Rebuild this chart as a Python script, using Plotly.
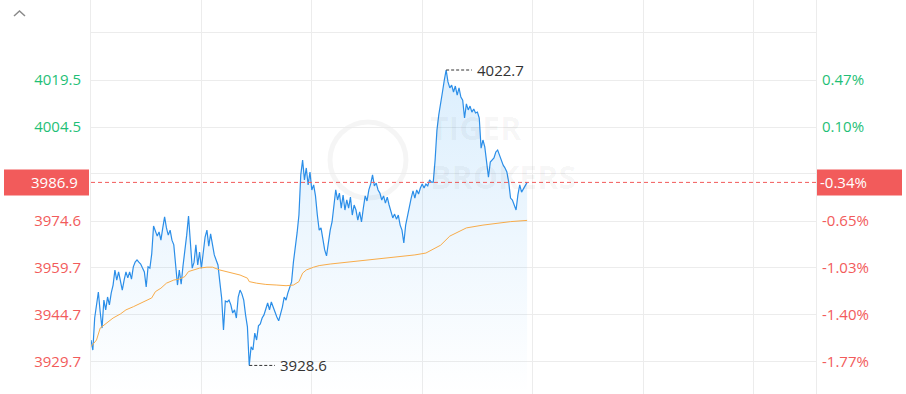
import plotly.graph_objects as go

# ---------------- data ----------------
price = [
    3936.7, 3933.5, 3943.7, 3947.5, 3952.0, 3945.6, 3940.5, 3949.4, 3946.3, 3950.4,
    3947.9, 3951.7, 3954.2, 3959.0, 3955.8, 3958.4, 3955.2, 3952.6, 3955.8, 3958.4,
    3956.5, 3958.4, 3956.1, 3960.0, 3961.5, 3962.2, 3961.5, 3960.9, 3959.6, 3958.4,
    3953.6, 3960.0, 3959.6, 3964.1, 3973.0, 3971.1, 3969.8, 3971.1, 3968.5, 3972.4,
    3975.9, 3972.4, 3970.1, 3971.7, 3968.5, 3967.0, 3961.5, 3954.2, 3959.0, 3954.5,
    3960.3, 3964.7, 3970.1, 3976.2, 3968.5, 3959.6, 3961.5, 3967.0, 3960.6, 3964.7,
    3959.6, 3965.4, 3969.5, 3971.7, 3966.6, 3970.5, 3966.3, 3963.8, 3962.2, 3960.6,
    3955.2, 3950.1, 3939.9, 3949.1, 3948.8, 3949.4, 3947.9, 3945.3, 3946.3, 3943.7,
    3950.4, 3952.6, 3951.4, 3949.4, 3944.7, 3940.9, 3928.6, 3934.5, 3933.5, 3938.9,
    3936.7, 3941.2, 3941.8, 3943.7, 3944.7, 3946.3, 3948.5, 3946.3, 3948.8, 3947.2,
    3945.3, 3944.0, 3942.8, 3944.7, 3947.2, 3950.4, 3949.4, 3951.7, 3953.6, 3955.2,
    3961.5, 3965.4, 3970.8, 3976.5, 3989.3, 3994.0, 3987.7, 3991.5, 3986.1, 3990.2,
    3984.5, 3986.1, 3982.6, 3976.5, 3971.7, 3972.4, 3968.5, 3965.4, 3963.5, 3968.5,
    3971.7, 3974.3, 3979.7, 3984.5, 3981.3, 3983.5, 3978.7, 3982.9, 3978.1, 3981.3,
    3978.7, 3982.2, 3976.5, 3979.7, 3978.1, 3974.9, 3977.5, 3974.3, 3978.7, 3982.6,
    3981.0, 3984.5, 3986.4, 3989.3, 3985.8, 3986.7, 3984.5, 3983.5, 3981.3, 3982.6,
    3980.3, 3982.2, 3979.7, 3977.8, 3975.6, 3976.8, 3975.2, 3976.5, 3973.3, 3971.7,
    3967.6, 3973.3, 3976.5, 3979.7, 3981.9, 3984.2, 3981.9, 3984.5, 3983.2, 3985.1,
    3986.4, 3985.1, 3986.4, 3985.8, 3987.7, 3987.0, 3987.0, 3994.0, 4003.6, 4008.4,
    4011.5, 4015.7, 4019.5, 4022.7, 4018.9, 4017.0, 4017.9, 4015.7, 4017.6, 4014.7,
    4017.0, 4014.1, 4013.1, 4007.4, 4011.9, 4010.0, 4011.2, 4009.3, 4010.3, 4009.0,
    4009.3, 4007.4, 3997.8, 4000.4, 3998.2, 3994.0, 3988.6, 3993.4, 3994.0, 3994.7,
    3996.6, 3997.2, 3995.6, 3994.0, 3992.4, 3991.5, 3990.2, 3987.0, 3981.9, 3981.3,
    3979.7, 3978.1, 3982.9, 3986.1, 3983.8, 3984.8, 3985.8, 3986.9,
]
minutes = list(range(len(price)))

avg_minutes = [0, 3, 5, 7, 9, 12, 16, 19, 23, 27, 30, 33, 35, 38, 41, 45, 48, 51, 53, 56,
               59, 63, 66, 70, 74, 77, 81, 85, 86, 90, 95, 101, 106, 110, 113, 115, 117,
               121, 124, 130, 138, 146, 157, 168, 176, 182, 185, 190, 195, 204, 213, 228, 237]
avg_values = [3934.6, 3936.7, 3940.5, 3941.5, 3942.4, 3943.7, 3945.0, 3946.3, 3947.3, 3948.4,
              3949.1, 3950.1, 3952.1, 3953.2, 3954.8, 3955.8, 3956.1, 3956.9, 3958.5, 3959.0,
              3959.6, 3959.9, 3959.9, 3959.0, 3958.5, 3958.1, 3957.4, 3956.4, 3955.3, 3954.8,
              3954.4, 3954.2, 3954.0, 3954.2, 3955.3, 3958.0, 3959.0, 3959.9, 3960.4, 3960.9,
              3961.4, 3961.9, 3962.5, 3963.2, 3963.8, 3964.4, 3965.4, 3966.9, 3969.8, 3972.4,
              3973.3, 3974.4, 3974.8]

left_tick_vals = [3929.7, 3944.7, 3959.7, 3974.6, 3989.6, 4004.5, 4019.5, 4034.5]
left_tick_text = ["3929.7", "3944.7", "3959.7", "3974.6", "", "4004.5", "4019.5", ""]
right_tick_text = ["-1.77%", "-1.40%", "-1.03%", "-0.65%", "", "0.10%", "0.47%", ""]
prev_close = 4000.7
last_label = "3986.9"
last_pct_label = "-0.34%"

# ---------------- styles ----------------
W, H = 906, 394
ML, MR = 91, 90
PW = W - ML - MR
Y_MIN, Y_MAX = 3919.5, 4045.0
X_MAX = 394
RED = "#f25b5b"
GREEN = "#1fbf77"
BLUE = "#2b8ee8"
ORANGE = "#f8ac4a"
GRID = "#ececec"
FONT = "Open Sans"


def colored(text, val):
    c = GREEN if val > prev_close else RED
    return f'<span style="color:{c}">{text}</span>' if text else ""


def px_to_paper_x(px):
    return (px - ML) / PW


def val_to_paper_y(v):
    return (v - Y_MIN) / (Y_MAX - Y_MIN)


fig = go.Figure()

# baseline for gradient fill
fig.add_trace(go.Scatter(x=minutes, y=[Y_MIN] * len(minutes), mode="lines",
                         line=dict(width=0, color="rgba(0,0,0,0)"),
                         hoverinfo="skip", showlegend=False))
fig.add_trace(go.Scatter(
    x=minutes, y=price, mode="lines", line=dict(color=BLUE, width=1.2),
    fill="tonexty",
    fillgradient=dict(type="vertical",
                      colorscale=[[0, "rgba(33,150,243,0.0)"], [1, "rgba(33,150,243,0.16)"]],
                      start=Y_MIN, stop=max(price)),
    showlegend=False, hoverinfo="skip"))
fig.add_trace(go.Scatter(x=avg_minutes, y=avg_values, mode="lines",
                         line=dict(color=ORANGE, width=1), showlegend=False, hoverinfo="skip"))
# dummy trace on right axis
fig.add_trace(go.Scatter(x=[0], y=[Y_MIN], yaxis="y2", mode="markers",
                         marker=dict(opacity=0), showlegend=False, hoverinfo="skip"))

shapes = []
annotations = []

# current price dashed line
last = price[-1]
shapes.append(dict(type="line", xref="paper", x0=0, x1=1, yref="y", y0=last, y1=last,
                   line=dict(color=RED, width=1, dash="4px,3px")))

# current price boxes
py = val_to_paper_y(last)
hh = 13 / H
shapes.append(dict(type="rect", xref="paper", yref="paper",
                   x0=px_to_paper_x(4), x1=px_to_paper_x(89), y0=py - hh, y1=py + hh,
                   fillcolor=RED, line=dict(width=0), layer="above"))
shapes.append(dict(type="rect", xref="paper", yref="paper",
                   x0=px_to_paper_x(817), x1=px_to_paper_x(902), y0=py - hh, y1=py + hh,
                   fillcolor=RED, line=dict(width=0), layer="above"))
annotations.append(dict(xref="paper", yref="paper", x=px_to_paper_x(80), y=py,
                        xanchor="right", yanchor="middle", text=last_label, showarrow=False,
                        font=dict(color="white", size=15, family=FONT)))
annotations.append(dict(xref="paper", yref="paper", x=px_to_paper_x(818), y=py,
                        xanchor="left", yanchor="middle", text=last_pct_label, showarrow=False,
                        font=dict(color="white", size=15, family=FONT)))

# max / min markers
imax = max(range(len(price)), key=lambda i: price[i])
imin = min(range(len(price)), key=lambda i: price[i])
for idx in (imax, imin):
    v = price[idx]
    shapes.append(dict(type="line", xref="x", yref="y", x0=idx, x1=idx + 14, y0=v, y1=v,
                       line=dict(color="#333333", width=1, dash="3px,2px")))
    annotations.append(dict(xref="x", yref="y", x=idx + 15.5, y=v, xanchor="left",
                            yanchor="middle", text=f"{v:.1f}", showarrow=False,
                            font=dict(color="#333333", size=15, family=FONT)))

# watermark
cx, cy, r = 368, 160, 38
shapes.append(dict(type="circle", xref="paper", yref="paper",
                   x0=px_to_paper_x(cx - r), x1=px_to_paper_x(cx + r),
                   y0=(H - (cy + r)) / H, y1=(H - (cy - r)) / H,
                   line=dict(color="rgba(0,0,0,0.04)", width=5), layer="below"))
annotations.append(dict(xref="paper", yref="paper", x=px_to_paper_x(428), y=(H - 128) / H,
                        xanchor="left", yanchor="middle", text="<b>TIGER</b>", showarrow=False,
                        font=dict(color="rgba(0,0,0,0.04)", size=32, family=FONT)))
annotations.append(dict(xref="paper", yref="paper", x=px_to_paper_x(428), y=(H - 177) / H,
                        xanchor="left", yanchor="middle", text="<b>BROKERS</b>", showarrow=False,
                        font=dict(color="rgba(0,0,0,0.04)", size=32, family=FONT)))

# caret at top-left
def pp(x, y):
    return f"{px_to_paper_x(x)},{(H - y) / H}"

shapes.append(dict(type="path", xref="paper", yref="paper",
                   path=f"M {pp(14,16)} L {pp(19.5,11)} L {pp(25,16)}",
                   line=dict(color="#8a8a8a", width=1.5)))

fig.update_layout(
    width=W, height=H, margin=dict(l=ML, r=MR, t=0, b=0),
    paper_bgcolor="white", plot_bgcolor="white",
    font=dict(family=FONT, size=15),
    xaxis=dict(range=[0, X_MAX], tickvals=[0, 60, 120, 180, 240, 300, 360],
               showticklabels=False, gridcolor=GRID, gridwidth=1, zeroline=False,
               showline=False, ticks=""),
    yaxis=dict(range=[Y_MIN, Y_MAX], tickvals=left_tick_vals,
               ticktext=[colored(t, v) for t, v in zip(left_tick_text, left_tick_vals)],
               gridcolor=GRID, zeroline=False, showline=True, mirror=True, linecolor=GRID,
               ticks="", ticklabelstandoff=6, tickfont=dict(size=15, family=FONT)),
    yaxis2=dict(range=[Y_MIN, Y_MAX], tickvals=left_tick_vals,
                ticktext=[colored(t, v) for t, v in zip(right_tick_text, left_tick_vals)],
                overlaying="y", side="right", showgrid=False, zeroline=False,
                ticks="", ticklabelstandoff=5, tickfont=dict(size=15, family=FONT)),
    shapes=shapes, annotations=annotations,
)

fig.write_html("out.html")
